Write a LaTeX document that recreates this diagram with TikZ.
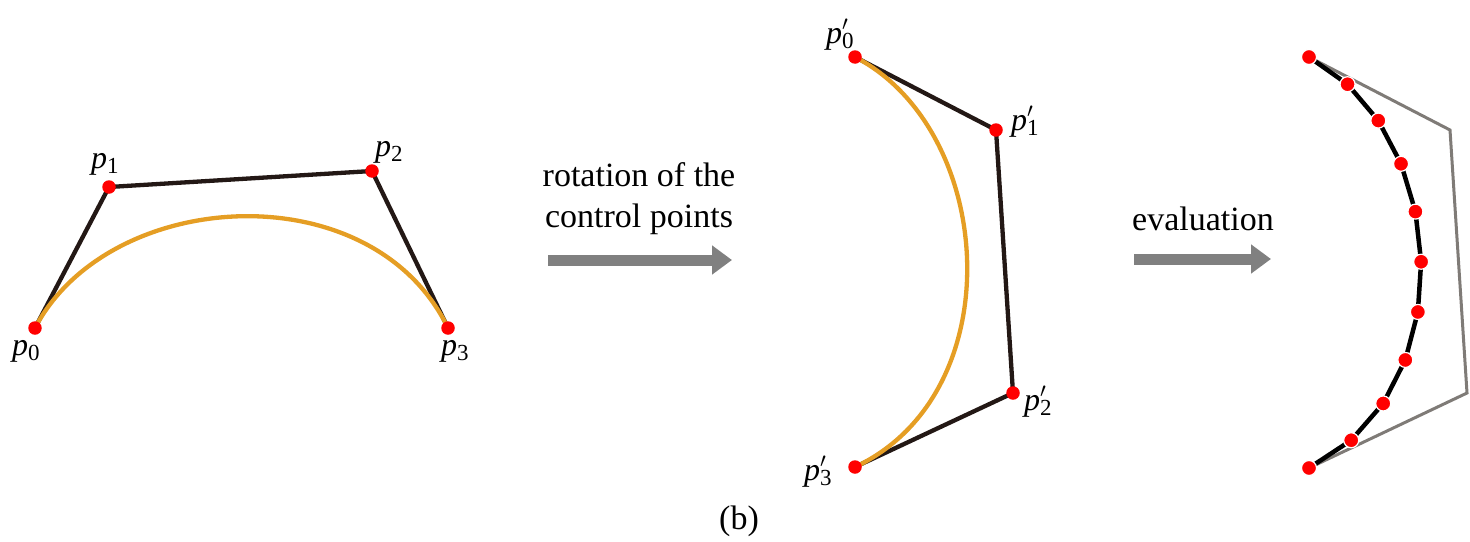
\documentclass[tikz,border=0pt]{standalone}
\usepackage{fontspec}
\setmainfont{Liberation Serif}
\usetikzlibrary{arrows.meta}
\definecolor{ctrl}{HTML}{231815}
\definecolor{curvecol}{HTML}{E59E24}
\definecolor{hull}{HTML}{7F7B77}
\definecolor{arrowgray}{HTML}{808080}
\newcommand{\psub}[1]{\textit{p}\raisebox{-0.17em}{\fontsize{23}{23}\selectfont #1}}
\newcommand{\pprime}[1]{\textit{p}\makebox[0pt][l]{\raisebox{0.1em}{$^{\prime}$}}\raisebox{-0.17em}{\fontsize{23}{23}\selectfont #1}}
\tikzset{
  ctrlline/.style={ctrl, line width=4.3pt, line join=round},
  curveline/.style={curvecol, line width=4.3pt},
  hullline/.style={hull, line width=3pt, line join=miter},
  evalline/.style={black, line width=4.5pt},
  dot/.style={circle, fill=red, inner sep=0pt, minimum size=13.5pt},
  edot/.style={circle, fill=red, draw=white, line width=1.2pt, inner sep=0pt, minimum size=15pt},
  lab/.style={font=\fontsize{32}{36}\selectfont, inner sep=0pt, anchor=base west},
  caption/.style={font=\fontsize{34}{40}\selectfont, inner sep=0pt, anchor=base},
  bigarrow/.style={arrowgray, line width=11pt, -{Triangle[length=20pt,width=28pt]}}
}
\begin{document}
\begin{tikzpicture}[x=1pt,y=-1pt]
\useasboundingbox (0,0) rectangle (1470,541);
% left curve
\coordinate (p0) at (35,328);
\coordinate (p1) at (109,187);
\coordinate (p2) at (372,171);
\coordinate (p3) at (448,328);
\draw[ctrlline] (p0) -- (p1) -- (p2) -- (p3);
\draw[curveline] (p0) .. controls (p1) and (p2) .. (p3);
\foreach \n in {p0,p1,p2,p3} \node[dot] (d\n) at (\n) {};
\node[lab] (lp0) at (12,355) {\psub{0}};
\node[lab] (lp1) at (91,168) {\psub{1}};
\node[lab] (lp2) at (375,156) {\psub{2}};
\node[lab] (lp3) at (441,355) {\psub{3}};
% middle curve
\coordinate (q0) at (855,57);
\coordinate (q1) at (996,130);
\coordinate (q2) at (1013,393);
\coordinate (q3) at (855,467);
\draw[ctrlline] (q0) -- (q1) -- (q2) -- (q3);
\draw[curveline] (q0) .. controls (q1) and (q2) .. (q3);
\foreach \n in {q0,q1,q2,q3} \node[dot] (d\n) at (\n) {};
\node[lab] (lq0) at (826,43) {\pprime{0}};
\node[lab] (lq1) at (1011,130) {\pprime{1}};
\node[lab] (lq2) at (1024,410) {\pprime{2}};
\node[lab] (lq3) at (804,480) {\pprime{3}};
% right: evaluation
\coordinate (r0) at (1309,57);
\coordinate (r1) at (1450,130);
\coordinate (r2) at (1467,393);
\coordinate (r3) at (1309,468);
\draw[hullline] (r0) -- (r1) -- (r2) -- (r3);
\path (r0) .. controls (r1) and (r2) .. (r3)
  coordinate[pos=0] (e0) coordinate[pos=0.1] (e1) coordinate[pos=0.2] (e2)
  coordinate[pos=0.3] (e3) coordinate[pos=0.4] (e4) coordinate[pos=0.5] (e5)
  coordinate[pos=0.6] (e6) coordinate[pos=0.7] (e7) coordinate[pos=0.8] (e8)
  coordinate[pos=0.9] (e9) coordinate[pos=1] (e10);
\draw[evalline] (e0) -- (e1) -- (e2) -- (e3) -- (e4) -- (e5) -- (e6) -- (e7) -- (e8) -- (e9) -- (e10);
\foreach \i in {0,...,10} \node[edot] (de\i) at (e\i) {};
% arrows and captions
\coordinate (a1s) at (548,260);
\coordinate (a1e) at (732,260);
\draw[bigarrow] (a1s) -- (a1e);
\node[caption] (t1) at (639,186) {rotation of the};
\node[caption] (t2) at (639,227) {control points};
\coordinate (a2s) at (1134,259);
\coordinate (a2e) at (1271,259);
\draw[bigarrow] (a2s) -- (a2e);
\node[caption] (t3) at (1203,230) {evaluation};
\node[caption] (cap) at (739,529) {(b)};
\end{tikzpicture}
\end{document}
